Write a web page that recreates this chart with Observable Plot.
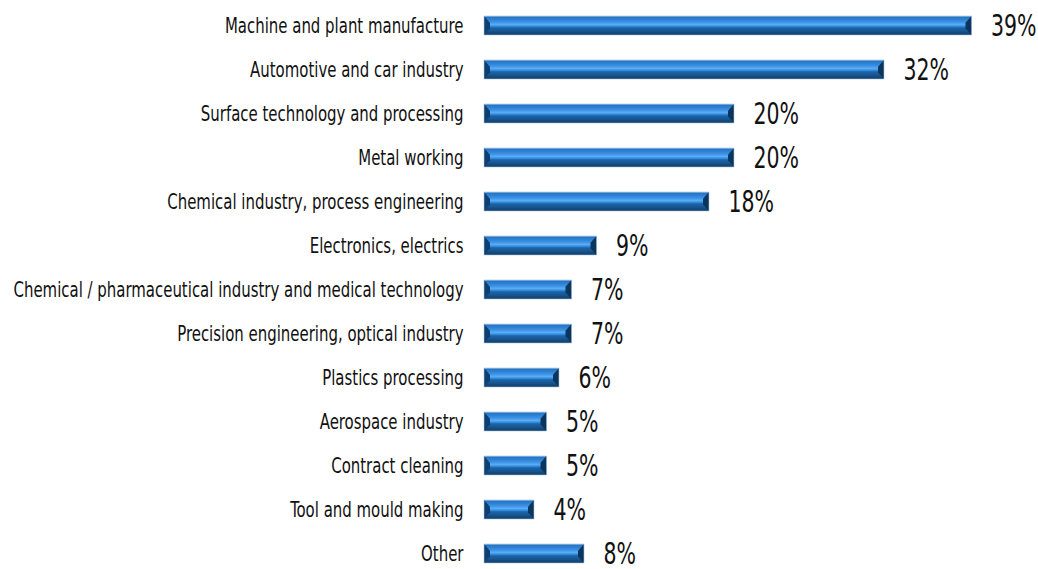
<!DOCTYPE html>
<html>
<head>
<meta charset="utf-8">
<script src="https://cdn.jsdelivr.net/npm/d3@7"></script>
<script src="https://cdn.jsdelivr.net/npm/@observablehq/plot@0.6"></script>
<style>
  html, body { margin: 0; padding: 0; background: #fff; }
  #chart svg { display: block; }
</style>
</head>
<body>
<div id="chart"></div>
<script>
const categories = [
  "Machine and plant manufacture",
  "Automotive and car industry",
  "Surface technology and processing",
  "Metal working",
  "Chemical industry, process engineering",
  "Electronics, electrics",
  "Chemical / pharmaceutical industry and medical technology",
  "Precision engineering, optical industry",
  "Plastics processing",
  "Aerospace industry",
  "Contract cleaning",
  "Tool and mould making",
  "Other"
];
const values = [39, 32, 20, 20, 18, 9, 7, 7, 6, 5, 5, 4, 8];
const valueLabels = ["39%", "32%", "20%", "20%", "18%", "9%", "7%", "7%", "6%", "5%", "5%", "4%", "8%"];

const data = categories.map((c, i) => ({category: c, value: values[i], label: valueLabels[i]}));

const font = "'DejaVu Sans Condensed', 'Liberation Sans Narrow', sans-serif";

const chart = Plot.plot({
  width: 1038,
  height: 569,
  marginLeft: 484,
  marginRight: 4,
  marginTop: 10,
  marginBottom: 0,
  style: {fontFamily: font, background: "#fff"},
  x: {domain: [0, 44], axis: null},
  y: {domain: categories, paddingInner: 0.574, paddingOuter: 0.05, label: null},
  marks: [
    Plot.axisY({tickSize: 0, tickPadding: 21, fontSize: 22, label: null, fill: "#111", className: "ylab"}),
    Plot.barX(data, {y: "category", x: "value", fill: "url(#barGrad)", className: "bars"}),
    Plot.text(data, {y: "category", x: "value", text: "label", dx: 19, textAnchor: "start", fontSize: 30, fill: "#111", className: "vlab"})
  ]
});

const svg = d3.select(chart);

// condense text horizontally (narrow display face look)
function condense(sel, k) {
  sel.each(function() {
    const t = d3.select(this);
    const tr = t.attr("transform") || "";
    t.attr("transform", tr + ` scale(${k},1)`);
  });
}
condense(svg.selectAll("g.ylab text"), 0.755);
condense(svg.selectAll("g.vlab text"), 0.76);

// gradient definitions for the bevelled bar look
const defs = svg.insert("defs", ":first-child");
const g = defs.append("linearGradient").attr("id", "barGrad").attr("x1", 0).attr("y1", 0).attr("x2", 0).attr("y2", 1);
[
  [0, "#7aa6d2"], [0.08, "#2476c8"], [0.3, "#3a8fe2"], [0.45, "#5aadf5"],
  [0.55, "#3088dc"], [0.62, "#1c64aa"], [0.85, "#164f86"], [1, "#0e385c"]
].forEach(([o, c]) => g.append("stop").attr("offset", o).attr("stop-color", c));

// bevelled ends derived from each rendered bar
svg.selectAll("g.bars rect").each(function() {
  const r = d3.select(this);
  const x = +r.attr("x"), y = +r.attr("y"), w = +r.attr("width"), h = +r.attr("height");
  const b = 6;
  const parent = d3.select(this.parentNode);
  parent.append("polygon")
    .attr("points", `${x},${y} ${x + b},${y + h * 0.35} ${x + b},${y + h * 0.65} ${x},${y + h}`)
    .attr("fill", "#0f3f6e");
  parent.append("polygon")
    .attr("points", `${x + w},${y} ${x + w - b},${y + h * 0.35} ${x + w - b},${y + h * 0.65} ${x + w},${y + h}`)
    .attr("fill", "#0c355c");
  parent.append("rect")
    .attr("x", x).attr("y", y).attr("width", w).attr("height", h)
    .attr("fill", "none").attr("stroke", "#a8c6e3").attr("stroke-width", 0.6);
});

document.getElementById("chart").appendChild(chart);
</script>
</body>
</html>
